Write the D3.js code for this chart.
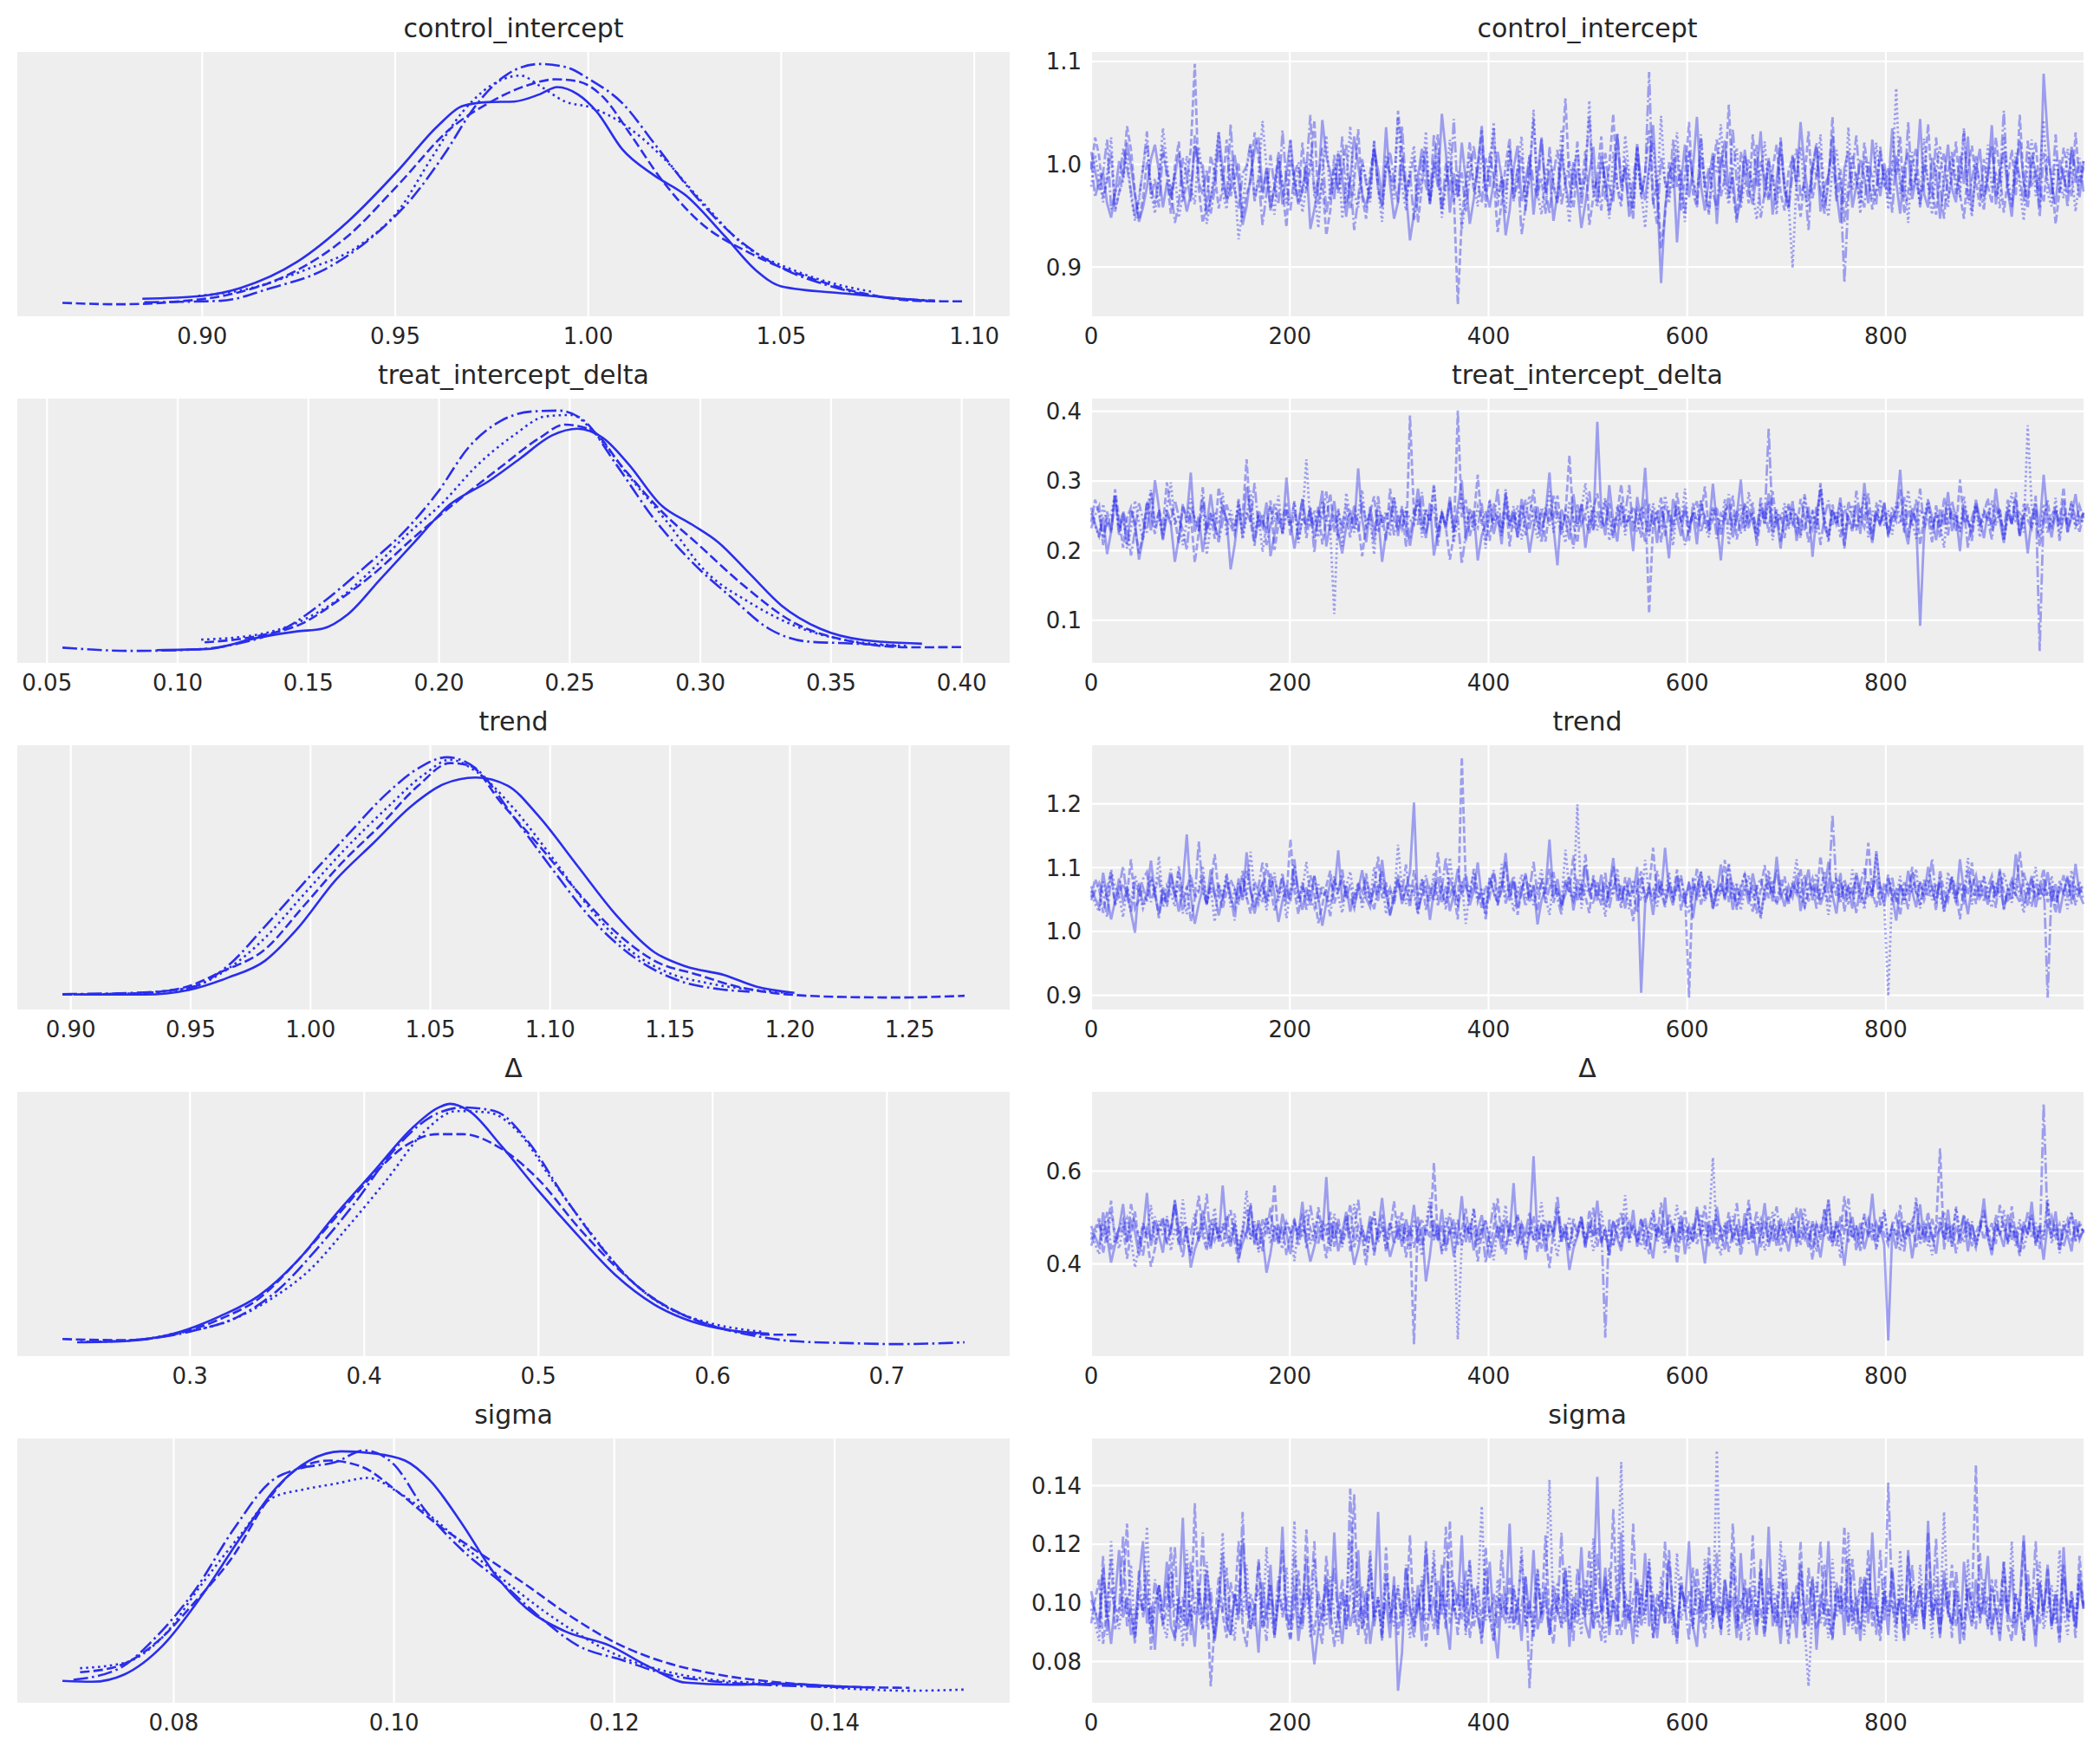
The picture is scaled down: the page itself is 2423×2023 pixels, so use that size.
<!DOCTYPE html>
<html>
<head>
<meta charset="utf-8">
<title>Trace plot</title>
<script src="https://cdn.jsdelivr.net/npm/d3@7"></script>
<style>
  body { margin: 0; background: #fff; }
  text { font-family: "DejaVu Sans", sans-serif; fill: #262626; }
</style>
</head>
<body>
<div id="chart"></div>
<script>
// ---- data ----
var varNames = ["control_intercept", "treat_intercept_delta", "trend", "\u0394", "sigma"];
var draws = 1000;

// kde curves, per chain: [value, density]
var kdeControl = [
  [[.8845,.4],[.90,.6],[.910,1.16],[.9246,2.96],[.9378,5.76],[.951,9.36],[.961,12.36],[.9675,13.76],[.974,14.02],[.9808,14.06],[.9874,14.56],[.992,15.06],[.9973,14.56],[1.0022,13.36],[1.0088,10.76],[1.017,8.96],[1.0253,7.56],[1.0353,4.76],[1.0435,2.36],[1.050,1.26],[1.0667,.76],[1.0832,.36],[1.088,.26]],
  [[.8638,.12],[.8784,.02],[.8932,.2],[.9064,.66],[.923,2.16],[.9378,4.76],[.951,8.36],[.9642,12.16],[.9742,13.96],[.984,15.16],[.9915,15.6],[.9973,15.46],[1.0039,14.36],[1.0105,11.96],[1.0187,8.76],[1.0287,5.76],[1.0419,3.56],[1.0584,1.76],[1.0716,.76],[1.0865,.24],[1.0975,.22]],
  [[.899,.6],[.9114,1.06],[.9263,2.36],[.9411,4.16],[.951,6.56],[.9593,10.1],[.9675,13.36],[.9775,15.56],[.9824,15.86],[.9874,15.16],[.994,14.06],[1.0006,13.66],[1.0088,12.56],[1.0187,10.36],[1.0287,7.36],[1.0402,4.16],[1.0534,2.36],[1.065,1.36],[1.074,.86]],
  [[.885,.16],[.9048,.26],[.918,1.16],[.9312,2.36],[.9444,4.76],[.9543,7.36],[.9626,10.36],[.9708,13.76],[.9791,15.96],[.9874,16.66],[.994,16.46],[1.0006,15.56],[1.0088,13.96],[1.0171,11.16],[1.027,7.76],[1.0369,4.96],[1.0485,2.76],[1.0617,1.36],[1.0749,.56],[1.0898,.28]]
];
var kdeTreat = [
  [[.092,.04],[.1115,.08],[.131,.5],[.1457,.72],[.1554,.82],[.1652,1.35],[.1774,2.61],[.1896,3.87],[.2042,5.35],[.2189,6.19],[.2311,7.03],[.2433,7.87],[.253,8.11],[.2628,7.77],[.2725,6.82],[.2847,5.35],[.2969,4.61],[.3067,3.98],[.3189,2.82],[.3311,1.66],[.3458,.82],[.3628,.4],[.3848,.27]],
  [[.1103,.32],[.131,.56],[.1481,1.03],[.1603,1.77],[.175,2.82],[.1896,4.08],[.2067,5.45],[.2237,6.72],[.2384,7.77],[.2481,8.26],[.2579,8.08],[.2701,6.72],[.2847,5.14],[.2994,3.87],[.3165,2.4],[.336,1.03],[.3555,.4],[.3799,.14],[.4011,.15]],
  [[.109,.42],[.131,.61],[.1481,1.14],[.1627,1.98],[.175,3.03],[.1871,4.19],[.2018,5.45],[.214,6.72],[.2286,7.87],[.2408,8.56],[.2506,8.61],[.2603,7.87],[.2725,6.4],[.2872,4.72],[.3018,2.93],[.3189,1.77],[.336,.93],[.3555,.4],[.3799,.19]],
  [[.0559,.13],[.0822,.01],[.1066,.06],[.1237,.29],[.1408,.82],[.1554,1.77],[.1725,3.14],[.1871,4.4],[.1993,5.77],[.2115,7.45],[.2237,8.4],[.2359,8.74],[.2457,8.77],[.2555,8.4],[.2677,6.82],[.2823,4.82],[.2969,3.24],[.3116,1.98],[.3262,.82],[.3409,.35],[.3555,.29],[.375,.19]]
];
var kdeTrend = [
  [[.904,.12],[.9306,.12],[.9492,.31],[.9652,.8],[.9811,1.51],[.9944,2.8],[1.0104,4.8],[1.0263,6.33],[1.0423,7.86],[1.0556,8.74],[1.0689,9.01],[1.0822,8.68],[1.0955,7.39],[1.1114,5.39],[1.1274,3.39],[1.1434,1.86],[1.1566,1.27],[1.1726,.92],[1.1859,.45],[1.2019,.19]],
  [[.8965,.12],[.9253,.16],[.9465,.39],[.9625,1.04],[.9811,1.98],[.9971,3.74],[1.013,5.51],[1.029,7.04],[1.045,8.68],[1.0582,9.6],[1.0662,9.51],[1.0795,7.98],[1.0955,6.21],[1.1114,4.33],[1.1274,2.68],[1.1434,1.51],[1.162,.92],[1.1779,.45],[1.1965,.15],[1.2231,.02],[1.2444,0],[1.2729,.07]],
  [[.8987,.12],[.9306,.19],[.9492,.39],[.9652,1.15],[.9811,2.45],[.9971,4.21],[1.0157,6.21],[1.0316,7.74],[1.0476,9.15],[1.0582,9.74],[1.0689,9.27],[1.0848,7.74],[1.1008,5.74],[1.1168,3.62],[1.1327,1.98],[1.1487,1.04],[1.1673,.56],[1.1832,.33],[1.1992,.19]],
  [[.8965,.14],[.9253,.19],[.9492,.39],[.9652,1.27],[.9811,2.92],[.9971,4.68],[1.0157,6.68],[1.0316,8.33],[1.045,9.39],[1.0569,9.84],[1.0689,9.39],[1.0848,7.39],[1.1008,5.27],[1.1168,3.27],[1.1354,1.62],[1.154,.68],[1.17,.35],[1.1832,.24]]
];
var kdeDelta = [
  [[.2352,.05],[.2627,.08],[.2883,.26],[.3176,.78],[.3395,1.34],[.3615,2.3],[.3834,3.58],[.4054,4.78],[.4274,5.98],[.442,6.54],[.4493,6.66],[.4603,6.46],[.4786,5.5],[.5005,4.22],[.5225,3.02],[.5445,1.9],[.5664,1.1],[.5884,.62],[.6103,.38],[.6323,.29]],
  [[.2268,.14],[.2627,.11],[.2883,.24],[.3176,.7],[.3395,1.26],[.3615,2.3],[.3834,3.5],[.4054,4.7],[.4237,5.5],[.442,5.82],[.4566,5.82],[.4786,5.42],[.5005,4.54],[.5225,3.26],[.5445,2.14],[.5664,1.26],[.5884,.7],[.6103,.38],[.6323,.26],[.6488,.26]],
  [[.2371,.06],[.2663,.1],[.2919,.3],[.3212,.62],[.3468,1.26],[.3688,2.06],[.3908,3.26],[.4127,4.54],[.4347,5.9],[.453,6.46],[.4713,6.42],[.4896,5.82],[.5079,4.54],[.5298,3.1],[.5518,1.82],[.5737,1.02],[.5957,.62],[.6286,.34]],
  [[.2407,.06],[.2737,.14],[.3029,.38],[.3285,.78],[.3505,1.5],[.3725,2.62],[.3944,3.9],[.4164,5.34],[.4383,6.3],[.4566,6.56],[.475,6.46],[.4933,5.66],[.5152,4.06],[.5372,2.62],[.5592,1.5],[.5811,.86],[.603,.46],[.625,.22],[.6469,.08],[.6762,.03],[.7055,0],[.7446,.05]]
];
var kdeSigma = [
  [[.0699,1.44],[.0726,1.32],[.0755,2.32],[.079,6.32],[.0825,13.12],[.086,21.12],[.0894,28.32],[.0923,31.92],[.0952,33.2],[.0981,32.92],[.101,31.92],[.1033,29.12],[.1062,23.12],[.1091,16.32],[.112,11.52],[.1155,8.32],[.1196,6.32],[.123,3.52],[.1265,1.2],[.1306,.92],[.1352,1.04],[.1398,.72],[.1433,.52]],
  [[.0715,2.64],[.075,3.52],[.0784,6.72],[.0819,12.32],[.0854,18.72],[.0883,25.92],[.0912,30.72],[.0941,31.92],[.097,31.12],[.1004,27.52],[.1039,23.12],[.1074,19.52],[.112,14.72],[.1161,10.32],[.1201,6.72],[.1248,3.92],[.1294,2.32],[.1352,1.2],[.141,.64],[.1468,.48]],
  [[.0715,3.2],[.0755,3.92],[.079,7.52],[.0825,14.72],[.086,21.52],[.0889,26.72],[.0918,27.92],[.0947,28.72],[.0976,29.52],[.1004,27.52],[.1039,23.52],[.1074,18.72],[.1115,13.52],[.1155,9.12],[.1201,5.12],[.1248,2.72],[.1294,1.52],[.1352,1.04],[.141,.4],[.1468,.08],[.1518,.24]],
  [[.0709,1.6],[.075,3.12],[.0784,7.52],[.0819,13.92],[.0854,22.32],[.0889,29.12],[.0912,30.72],[.0947,31.72],[.0973,33.32],[.0999,31.52],[.1028,25.12],[.1062,19.52],[.1097,15.12],[.1132,10.32],[.1167,6.32],[.1207,4.32],[.1248,2.32],[.1294,1.32],[.1352,.8],[.141,.56]]
];

// traces, per chain, thinned to 250 stored draws
var traceControl = [
  [1.012,.993,.975,.991,.962,.948,.971,1.003,.987,1.021,.998,.969,.944,.958,.978,1.005,1.019,.993,.958,.982,.967,.989,1.011,.976,.954,
   .971,1.018,1.002,.999,.952,.966,.986,1.031,.995,.964,.977,1.009,.983,.941,.959,.988,1.014,1.026,.973,.996,.955,.979,1.004,.961,.992,
   1.024,.983,.961,.975,1.002,.937,.956,.979,1.043,1.008,.992,.966,1.011,.987,.949,.985,1.027,.999,.971,.958,.982,1.015,.994,.968,1.036,
   .981,.947,.963,1.006,.973,.926,.952,.989,1.015,.997,.962,1.004,.978,1.049,1.012,.953,.991,.968,1.021,.984,.942,.966,.999,1.033,.975,
   .958,.983,1.012,.987,.931,.955,.996,1.018,.964,.983,1.007,.951,.989,1.026,.972,.994,.945,.971,1.013,.981,.959,1.002,.976,.938,.962,
   .991,1.017,.962,1.008,.985,.953,.974,1.029,.977,.996,.949,.967,1.017,.982,.965,.998,1.038,.973,.8845,.957,.991,1.004,.924,.983,1.019,
   .968,.995,1.046,.979,.955,.986,1.011,.942,.999,1.023,.971,.988,.947,.966,1.014,.976,.961,.993,1.032,.968,1.006,.951,.984,1.022,.973,
   .957,1.009,.981,1.041,.996,.966,.995,1.017,.954,.978,.989,1.028,.972,.943,.996,1.013,.958,.979,1.004,.987,.962,1.024,.993,.969,1.001,
   .974,1.035,.983,.952,.997,1.011,.966,.988,1.044,.971,.958,1.006,.992,.947,.985,1.019,.976,.963,1.008,.981,1.027,.954,.993,1.015,.968,
   .987,1.038,.961,.994,1.012,.975,.949,.998,1.023,.982,.966,1.009,.993,.958,1.088,1.026,.979,.961,1.004,.987,.972,1.017,.995,.968,1.003],
  [.995,1.026,1.008,.968,.983,1.011,.954,.972,.989,1.037,1.014,.972,.946,.967,1.003,.979,.961,.985,1.018,.987,.952,.998,1.022,.964,.981,
   1.015,1.0975,.976,.943,.962,1.008,.992,.957,.978,1.024,.969,.986,1.002,.948,.971,.983,1.031,1.006,.966,.994,.958,.977,1.012,.977,.939,
   1.005,.988,.963,1.021,.974,.997,1.043,.961,.985,.931,.955,1.009,.972,.995,1.019,.956,.983,1.034,.968,.947,.992,1.016,.979,.958,1.001,
   .991,.976,1.052,1.013,.965,.988,1.007,.943,.979,1.016,.962,.998,1.029,.957,.984,1.003,.969,.8638,.947,.981,1.022,.973,.995,1.038,.958,
   1.011,.987,.934,.963,.999,1.025,.966,.982,1.009,.955,.992,1.044,.971,.986,.952,1.017,.978,.963,1.001,1.064,.982,.957,.996,.974,1.013,
   .941,.968,.988,1.027,.965,.998,1.049,.976,.959,1.006,.983,.946,1.021,.968,.992,1.033,.961,.985,.918,.951,1.002,.977,1.015,.954,.989,
   1.041,.972,.958,1.008,.983,.951,.997,1.024,.969,.986,1.058,.974,.943,1.012,.991,.962,1.029,.978,1.003,.987,.964,.996,1.019,.972,.955,
   .993,1.007,.978,.949,.986,1.032,.967,.989,1.012,.958,.981,1.046,.973,.995,.944,.979,1.008,.985,.962,1.021,.991,.956,.976,1.013,.984,
   .967,1.003,.989,1.027,.952,.973,.998,1.016,.961,.984,1.039,.975,.951,.993,1.011,.966,.988,1.022,.971,.947,.996,1.018,.983,.959,1.005,
   .979,.962,1.026,.991,.953,.986,1.014,.969,1.048,.981,.957,.999,1.021,.974,.963,1.008,.987,.942,.975,1.016,.993,.968,1.031,.981,.997],
  [.978,1.009,.986,.963,.991,1.026,.957,.972,.984,1.012,.969,.945,.963,.998,1.021,.974,.952,.989,1.035,1.002,.967,.993,.948,.971,1.008,
   .979,.961,1.017,.986,.942,.966,.999,1.031,.972,.956,1.004,.983,.927,.958,.995,1.019,.964,.988,1.042,.997,.975,.951,1.006,.981,.962,
   1.024,.969,.997,.953,.978,1.011,.976,.938,.992,1.028,.965,.984,1.013,.947,.979,1.037,.971,.958,1.001,.986,.963,1.022,.975,.944,1.009,
   .991,.966,1.046,.978,.955,.997,1.018,.969,.984,1.032,.961,.989,1.011,.948,.977,1.024,.963,.993,.936,.968,1.007,.982,.959,1.015,.973,
   .998,1.041,.968,.985,.952,1.019,.976,.994,1.027,.964,.987,1.053,.972,.951,.991,1.008,.983,.961,1.034,.977,.943,.996,1.015,.968,.989,
   1.062,.975,.958,1.003,.982,.947,1.012,.979,.965,1.028,.991,.954,1.006,.973,.938,.995,1.021,.968,1.047,.981,.962,.999,1.031,.976,.944,
   1.013,.987,.966,1.025,.972,.953,1.008,.991,1.039,.978,.961,.994,1.016,.957,.984,1.005,.971,.946,.989,1.022,.967,.993,.951,1.011,.979,
   .962,.899,.985,1.017,.974,.958,1.003,.988,1.029,.967,.949,.996,1.014,.981,.963,1.036,.975,.992,.952,1.008,.984,.966,1.021,.977,.995,
   .956,.989,1.074,.971,.997,.943,1.012,.983,.964,1.025,.979,.951,.994,1.018,.972,.958,1.006,.987,.968,1.033,.975,.949,1.001,.982,.963,
   1.019,.976,.993,.957,1.027,.986,.964,1.011,.978,.945,.998,1.024,.969,.988,1.043,.972,.959,1.006,.983,.967,1.015,.991,.954,.987,1.003],
  [1.003,.968,.985,.992,1.024,.956,.973,.981,1.015,.997,.973,.949,.968,.995,1.032,.967,.986,.958,1.011,.993,.977,.943,.962,1.006,.989,
   .963,1.028,.982,.971,.995,.952,.976,1.017,.984,.966,1.039,.975,.957,.991,.998,1.021,.964,.987,.941,.972,1.009,.978,.961,1.033,.983,
   .955,.991,1.002,.972,.994,1.048,.969,.985,1.016,.952,.975,.997,.974,1.027,.962,.988,.936,.967,1.005,.981,.967,1.023,.976,.958,.996,
   1.012,.984,.963,1.037,.975,.991,.946,.968,1.008,.979,.965,1.029,.986,.953,1.001,.973,1.044,.968,.992,.954,.987,1.018,.983,.962,1.006,
   .977,1.035,.959,.988,.971,1.013,.964,.996,.932,.958,1.009,.981,.967,1.025,.975,.952,.99,1.014,.961,.983,1.003,.976,1.022,.958,.993,
   1.047,.972,.986,.955,1.011,.978,.963,1.031,.982,.997,.959,.984,1.016,.971,.988,1.0898,.965,.942,1.007,.983,.969,1.024,.977,.994,.951,
   1.012,.986,.961,1.029,.978,.996,.973,.956,1.011,.989,.967,1.034,.982,.964,1.008,.993,.975,1.019,.948,.972,1.003,.987,.961,1.026,.979,
   .957,.992,1.015,.968,.983,.936,.998,1.021,.975,.952,.989,1.013,.964,.981,.885,.967,.994,1.028,.973,.958,1.002,.986,.961,1.017,.978,
   .996,.953,1.009,.984,.967,1.041,.975,.991,.958,1.004,.982,.966,1.026,.979,.947,.993,1.012,.971,.988,1.035,.962,.985,1.008,.974,.956,
   .991,1.018,.969,.983,1.052,.976,.958,1.005,.987,.963,1.023,.978,.994,.949,1.011,.984,.967,1.029,.972,.996,.958,1.014,.982,1.006,.973]
];
var traceTreat = [
  [.262,.238,.221,.248,.195,.227,.276,.233,.254,.209,.257,.241,.187,.218,.268,.229,.301,.262,.215,.252,.238,.184,.219,.263,.247,
   .312,.227,.249,.198,.236,.281,.236,.219,.266,.244,.173,.208,.255,.228,.291,.254,.213,.247,.234,.269,.192,.223,.258,.225,.305,
   .241,.203,.237,.274,.237,.261,.218,.249,.286,.206,.239,.271,.224,.196,.235,.258,.232,.318,.245,.212,.263,.229,.251,.184,.226,
   .242,.276,.221,.259,.235,.207,.243,.289,.246,.218,.268,.193,.226,.254,.231,.277,.226,.262,.301,.214,.243,.257,.186,.222,.238,
   .271,.224,.249,.209,.283,.236,.255,.219,.274,.241,.197,.234,.263,.228,.252,.312,.234,.179,.259,.244,.216,.281,.238,.267,.204,
   .245,.231,.385,.256,.222,.294,.241,.213,.268,.235,.251,.199,.277,.243,.319,.226,.258,.211,.262,.237,.189,.274,.248,.221,.266,
   .232,.254,.209,.271,.245,.228,.296,.238,.186,.257,.264,.219,.249,.302,.231,.257,.242,.216,.267,.239,.282,.225,.249,.203,.258,
   .236,.271,.214,.246,.229,.263,.191,.252,.287,.233,.219,.258,.241,.276,.207,.249,.232,.266,.224,.297,.243,.211,.254,.237,.269,
   .222,.248,.257,.316,.234,.209,.261,.243,.092,.226,.272,.248,.215,.259,.237,.284,.228,.251,.199,.265,.241,.227,.273,.246,.218,
   .256,.234,.289,.243,.211,.262,.238,.274,.221,.251,.196,.247,.268,.233,.309,.245,.219,.258,.237,.272,.226,.249,.281,.238,.255],
  [.241,.273,.252,.218,.256,.229,.288,.247,.204,.247,.262,.233,.196,.224,.271,.252,.224,.259,.235,.298,.261,.246,.211,.267,.239,
   .252,.183,.226,.276,.229,.255,.217,.291,.257,.244,.236,.223,.265,.249,.331,.241,.207,.258,.242,.229,.272,.201,.238,.246,.268,
   .222,.255,.237,.274,.218,.251,.236,.263,.209,.245,.282,.226,.257,.231,.248,.219,.266,.239,.192,.236,.255,.278,.227,.251,.214,
   .289,.243,.232,.264,.205,.394,.252,.271,.228,.259,.241,.296,.219,.256,.233,.187,.222,.401,.248,.273,.221,.245,.309,.238,.257,
   .214,.268,.242,.231,.279,.206,.253,.236,.265,.222,.247,.288,.234,.258,.213,.261,.245,.279,.229,.252,.337,.238,.211,.267,.246,
   .225,.259,.282,.241,.235,.268,.222,.254,.295,.239,.244,.263,.248,.219,.274,.110,.236,.257,.212,.266,.249,.227,.283,.241,.259,
   .214,.268,.236,.251,.292,.228,.245,.263,.221,.254,.237,.279,.216,.248,.262,.231,.269,.207,.244,.258,.226,.285,.239,.252,.218,
   .263,.241,.227,.274,.249,.212,.258,.236,.297,.244,.221,.266,.238,.253,.203,.271,.247,.229,.261,.243,.282,.224,.256,.235,.268,
   .219,.251,.242,.288,.226,.259,.237,.273,.208,.246,.264,.231,.255,.218,.276,.241,.257,.227,.302,.239,.248,.214,.266,.236,.253,
   .275,.229,.247,.261,.216,.253,.238,.284,.224,.249,.267,.233,.258,.206,.245,.272,.231,.256,.243,.291,.227,.251,.238,.264,.246],
  [.254,.236,.219,.267,.238,.251,.281,.226,.249,.203,.232,.272,.241,.215,.258,.287,.232,.246,.224,.262,.298,.237,.251,.208,.243,
   .275,.243,.229,.266,.194,.237,.255,.238,.283,.221,.258,.234,.271,.216,.249,.286,.227,.252,.198,.238,.264,.241,.279,.222,.253,
   .238,.269,.211,.246,.331,.235,.258,.219,.272,.243,.229,.109,.261,.206,.283,.248,.226,.252,.287,.231,.245,.194,.267,.239,.256,
   .221,.276,.248,.233,.262,.244,.238,.275,.219,.258,.241,.292,.227,.254,.236,.269,.211,.248,.281,.234,.257,.229,.263,.247,.203,
   .274,.238,.256,.221,.288,.244,.232,.265,.216,.251,.279,.241,.218,.262,.249,.285,.226,.253,.238,.211,.271,.245,.234,.258,.297,
   .236,.263,.229,.251,.276,.214,.247,.238,.269,.222,.258,.243,.227,.263,.248,.219,.268,.244,.232,.279,.251,.207,.262,.238,.289,
   .226,.255,.243,.272,.236,.219,.261,.249,.231,.274,.208,.253,.241,.266,.228,.284,.245,.222,.259,.237,.271,.215,.256,.243,.268,
   .231,.262,.247,.218,.276,.239,.254,.226,.293,.245,.212,.258,.237,.269,.224,.251,.266,.233,.247,.281,.219,.257,.241,.274,.235,
   .258,.223,.269,.246,.234,.287,.241,.217,.259,.248,.274,.229,.252,.238,.204,.266,.243,.256,.227,.278,.241,.233,.262,.219,.251,
   .245,.272,.236,.259,.214,.248,.283,.239,.257,.226,.380,.263,.242,.218,.267,.249,.234,.276,.221,.255,.243,.269,.231,.252,.238],
  [.232,.251,.264,.208,.247,.226,.279,.221,.256,.238,.193,.229,.268,.244,.226,.285,.239,.253,.217,.258,.241,.272,.249,.229,.201,
   .263,.246,.233,.291,.224,.251,.237,.212,.242,.266,.245,.228,.274,.219,.256,.241,.297,.232,.252,.208,.236,.267,.243,.226,.259,
   .236,.271,.214,.248,.235,.262,.197,.257,.243,.285,.229,.251,.218,.239,.266,.238,.255,.226,.269,.241,.253,.211,.278,.234,.249,
   .264,.222,.247,.231,.257,.216,.259,.237,.284,.225,.248,.263,.207,.251,.238,.272,.229,.246,.181,.224,.261,.243,.233,.268,.214,
   .252,.241,.289,.226,.255,.237,.264,.219,.247,.273,.231,.258,.244,.211,.262,.236,.279,.248,.223,.257,.241,.203,.266,.238,.252,
   .285,.229,.256,.232,.271,.245,.218,.263,.239,.251,.294,.227,.258,.242,.213,.267,.235,.248,.276,.221,.259,.237,.266,.243,.208,
   .231,.255,.271,.226,.249,.238,.262,.217,.253,.246,.281,.233,.257,.224,.268,.241,.252,.229,.276,.244,.375,.236,.259,.213,.248,
   .267,.239,.254,.222,.281,.246,.231,.263,.208,.249,.272,.237,.255,.219,.264,.242,.228,.286,.247,.233,.258,.214,.269,.241,.252,
   .226,.263,.245,.238,.277,.219,.256,.241,.289,.233,.248,.212,.265,.237,.254,.222,.271,.246,.231,.259,.204,.247,.268,.236,.257,
   .243,.216,.262,.248,.229,.273,.238,.255,.221,.267,.244,.232,.279,.056,.257,.226,.249,.263,.214,.252,.238,.271,.246,.227,.254]
];
var traceTrend = [
  [1.071,1.052,1.038,1.092,1.054,1.019,1.047,1.083,1.047,1.065,1.029,.998,1.076,1.042,1.061,1.111,1.058,1.027,1.069,1.046,1.089,1.063,1.031,1.074,1.152,
   1.056,1.012,1.043,1.068,1.043,1.097,1.061,1.025,1.055,1.079,1.051,1.037,1.083,1.049,1.124,1.066,1.028,1.058,1.075,1.044,1.091,1.058,1.015,1.048,1.072,
   1.047,1.103,1.062,1.034,1.069,1.041,1.087,1.053,1.009,1.044,1.078,1.062,1.127,1.045,1.071,1.031,1.058,1.064,1.096,1.052,1.038,1.074,1.048,1.112,1.059,
   1.026,1.053,1.081,1.043,1.067,1.093,1.202,1.035,1.056,1.072,1.018,1.063,1.085,1.046,1.071,1.032,1.058,1.098,1.057,1.077,1.041,1.064,1.108,1.052,1.027,
   1.083,1.061,1.045,1.069,1.123,1.054,1.079,1.038,1.062,1.091,1.047,1.073,1.011,1.049,1.066,1.144,1.055,1.082,1.043,1.058,1.086,1.033,1.071,1.049,1.104,
   1.061,1.078,1.052,1.089,1.039,1.067,1.115,1.048,1.072,1.036,1.084,1.059,1.101,.904,1.044,1.068,1.026,1.079,1.055,1.131,1.063,1.041,1.087,1.057,1.046,
   1.078,1.021,1.066,1.093,1.052,1.074,1.037,1.061,1.105,1.049,1.082,1.034,1.068,1.051,1.072,1.043,1.091,1.058,1.024,1.065,1.083,1.047,1.117,1.062,1.039,
   1.071,1.054,1.088,1.032,1.066,1.097,1.049,1.075,1.042,1.063,1.109,1.057,1.028,1.081,1.052,1.069,1.036,1.092,1.061,1.045,1.078,1.053,1.126,1.064,1.041,
   1.083,1.058,1.017,1.072,1.049,1.095,1.063,1.038,1.076,1.054,1.101,1.067,1.044,1.085,1.032,1.059,1.078,1.046,1.113,1.062,1.027,1.071,1.088,1.053,1.066,
   1.042,1.079,1.056,1.098,1.034,1.067,1.052,1.121,1.073,1.045,1.061,1.087,1.038,1.069,1.055,1.093,1.047,1.074,1.029,1.062,1.084,1.051,1.106,1.058,1.043],
  [1.053,1.082,1.067,1.029,1.067,1.094,1.041,1.058,1.075,1.058,1.113,1.036,1.049,1.069,1.047,1.086,1.064,1.021,1.064,1.039,1.077,1.055,1.102,1.048,1.071,
   1.016,1.052,1.062,1.089,1.044,1.073,1.121,1.057,1.035,1.063,1.081,1.066,1.042,1.095,1.054,1.028,1.078,1.061,1.046,1.107,1.069,1.033,1.057,1.084,1.052,
   1.145,1.063,1.027,1.074,1.049,1.088,1.058,1.013,1.041,1.071,1.095,1.044,1.065,1.082,1.056,1.053,1.036,1.076,1.059,1.091,1.043,1.068,1.117,1.052,1.077,
   1.024,1.063,1.089,1.047,1.072,1.038,1.096,1.056,1.081,1.034,1.067,1.049,1.124,1.061,1.043,1.085,1.058,1.019,1.273,1.073,1.052,1.098,1.064,1.037,1.072,
   1.055,1.093,1.041,1.066,1.109,1.048,1.079,1.026,1.064,1.087,1.051,1.071,1.032,1.083,1.057,1.098,1.045,1.069,1.036,1.081,1.062,1.119,1.047,1.073,1.055,
   1.029,1.088,1.064,1.041,1.076,1.051,1.102,1.063,1.037,1.085,1.058,1.016,1.072,1.094,1.046,1.067,1.131,1.053,1.079,1.042,1.071,1.056,1.097,1.033,1.066,
   .8965,1.084,1.049,1.075,1.061,1.087,1.043,1.069,1.058,1.112,1.046,1.077,1.034,1.062,1.091,1.055,1.073,1.028,1.066,1.104,1.052,1.079,1.041,1.068,1.086,
   1.047,1.072,1.059,1.099,1.036,1.064,1.083,1.051,1.118,1.067,1.044,1.078,1.056,1.092,1.031,1.069,1.058,1.087,1.045,1.074,1.139,1.062,1.038,1.071,1.055,
   1.089,1.046,1.068,1.025,1.077,1.058,1.101,1.063,1.042,1.081,1.054,1.072,1.033,1.096,1.061,1.048,1.085,1.066,1.019,1.074,1.057,1.108,1.043,1.069,1.082,
   1.051,1.076,1.037,1.094,1.062,1.045,1.078,1.056,1.125,1.067,1.039,1.083,1.052,1.071,1.098,1.046,1.064,1.029,1.079,1.058,1.087,1.043,1.069,1.061,1.074],
  [1.064,1.043,1.031,1.078,1.049,1.097,1.069,1.058,1.022,1.071,1.045,1.088,1.062,1.036,1.054,1.083,1.053,1.118,1.047,1.072,1.059,1.039,1.095,1.061,1.027,
   1.079,1.054,1.068,1.103,1.043,1.068,1.015,1.074,1.057,1.091,1.038,1.066,1.049,1.084,1.051,1.125,1.062,1.044,1.077,1.033,1.069,1.092,1.048,1.073,1.021,
   1.058,1.081,1.046,1.065,1.109,1.052,1.037,1.074,1.056,1.063,1.041,1.087,1.056,1.029,1.071,1.094,1.052,1.077,1.035,1.068,1.046,1.101,1.059,1.083,1.027,
   1.064,1.048,1.136,1.066,1.043,1.075,1.058,1.029,1.082,1.061,1.047,1.093,1.055,1.071,1.034,1.116,1.063,1.049,1.078,1.012,1.067,1.091,1.053,1.069,1.038,
   1.084,1.061,1.045,1.106,1.057,1.072,1.031,1.065,1.089,1.052,1.076,1.041,1.068,1.097,1.054,1.026,1.079,1.062,1.043,1.128,1.066,1.051,1.199,1.036,1.071,
   1.058,1.083,1.047,1.065,1.023,1.078,1.056,1.099,1.044,1.069,1.035,1.081,1.062,1.048,1.112,1.057,1.066,1.039,1.074,1.058,1.092,1.045,1.067,1.083,1.051,
   1.028,1.076,1.061,1.094,1.047,1.066,1.082,1.038,1.071,1.055,1.104,1.049,1.077,1.033,1.063,1.088,1.052,1.073,1.019,1.067,1.096,1.058,1.044,1.081,1.062,
   1.047,1.071,1.113,1.055,1.039,1.078,1.064,1.091,1.048,1.072,1.026,1.066,1.085,1.053,1.074,1.041,1.097,1.059,1.068,1.034,1.079,1.056,1.121,1.063,1.045,
   .8987,1.069,1.052,1.087,1.043,1.074,1.061,1.098,1.036,1.067,1.082,1.049,1.075,1.057,1.031,1.093,1.064,1.046,1.078,1.059,1.115,1.042,1.071,1.053,1.088,
   1.061,1.037,1.076,1.054,1.092,1.067,1.045,1.083,1.058,1.029,1.074,1.062,1.101,1.048,1.069,1.056,1.087,1.041,1.073,1.064,1.035,1.096,1.057,1.078,1.049],
  [1.049,1.063,1.076,1.058,1.022,1.087,1.043,1.069,1.102,1.055,1.031,1.074,1.061,1.082,1.093,1.046,1.067,1.083,1.037,1.062,1.098,1.051,1.074,1.028,1.066,
   1.089,1.054,1.141,1.063,1.042,1.079,1.056,1.071,1.045,1.088,1.059,1.017,1.076,1.052,1.095,1.063,1.038,1.071,1.108,1.049,1.067,1.083,1.056,1.092,1.041,
   1.068,1.113,1.052,1.077,1.034,1.063,1.087,1.046,1.072,1.055,1.024,1.081,1.062,1.097,1.051,1.074,1.038,1.066,1.047,1.082,1.059,1.035,1.071,1.094,1.053,
   1.068,1.043,1.077,1.061,1.105,1.048,1.072,1.026,1.064,1.088,1.055,1.079,1.041,1.067,1.116,1.052,1.075,1.037,1.069,1.091,1.054,1.078,1.046,1.063,1.019,
   1.072,1.096,1.058,1.081,1.044,1.066,1.087,1.053,1.072,1.039,1.064,1.109,1.057,1.076,1.045,1.068,1.093,1.051,1.027,1.074,1.062,1.048,1.082,1.059,1.121,
   1.066,1.043,1.077,1.055,1.092,1.036,1.069,1.085,1.051,1.074,1.058,1.063,1.029,1.084,1.057,1.071,1.046,1.095,1.062,1.038,1.079,1.054,1.069,1.088,1.047,
   1.073,1.056,1.098,1.042,1.067,1.081,1.035,1.064,1.077,1.052,1.106,1.061,1.044,1.072,1.089,1.058,1.031,1.069,1.083,1.049,1.075,1.062,1.097,1.054,1.068,
   1.041,1.078,1.063,1.055,1.089,1.047,1.072,1.036,1.066,1.093,1.058,1.183,1.071,1.044,1.082,1.056,1.067,1.028,1.074,1.099,1.053,1.065,1.087,1.041,1.076,
   1.059,1.084,1.046,1.071,1.062,1.035,1.092,1.057,1.078,1.049,1.067,1.114,1.053,1.076,1.038,1.064,1.086,1.051,1.073,1.042,1.097,1.061,1.055,1.082,1.048,
   1.069,1.087,1.052,1.074,1.036,1.063,1.081,1.058,1.046,1.092,1.067,1.039,1.075,1.056,1.084,.8965,1.071,1.049,1.062,1.088,1.053,1.077,1.041,1.066,1.059]
];
var traceDelta = [
  [.482,.459,.436,.511,.458,.403,.441,.476,.529,.447,.492,.468,.418,.467,.553,.439,.486,.461,.424,.497,.463,.538,.475,.441,.479,
   .392,.431,.456,.515,.472,.433,.498,.451,.569,.464,.438,.487,.412,.445,.469,.526,.445,.494,.457,.381,.423,.481,.443,.508,.466,
   .421,.489,.462,.534,.448,.405,.437,.477,.452,.587,.439,.491,.427,.468,.512,.455,.398,.432,.476,.449,.503,.426,.471,.542,.458,
   .415,.447,.484,.437,.496,.461,.527,.444,.479,.362,.419,.495,.452,.518,.437,.481,.416,.463,.546,.447,.488,.429,.472,.505,.458,
   .413,.452,.476,.432,.498,.461,.574,.443,.486,.409,.467,.632,.451,.484,.426,.493,.457,.512,.448,.471,.387,.433,.459,.502,.438,
   .483,.461,.536,.445,.474,.419,.491,.455,.428,.481,.454,.516,.437,.472,.498,.449,.412,.486,.461,.543,.433,.478,.456,.504,.421,
   .473,.449,.523,.462,.401,.488,.445,.523,.467,.431,.494,.459,.478,.436,.509,.452,.487,.418,.466,.531,.447,.482,.439,.498,.463,
   .427,.484,.451,.519,.471,.436,.492,.458,.414,.476,.539,.448,.483,.462,.396,.474,.501,.445,.488,.432,.467,.551,.453,.479,.441,
   .235,.468,.433,.496,.457,.481,.412,.469,.528,.446,.487,.463,.422,.491,.452,.517,.438,.476,.459,.503,.427,.485,.448,.472,.541,
   .456,.419,.483,.466,.437,.506,.452,.478,.425,.491,.463,.534,.444,.471,.409,.487,.455,.513,.438,.479,.461,.427,.496,.452,.474],
  [.452,.476,.498,.423,.471,.536,.445,.462,.482,.411,.467,.513,.439,.488,.456,.394,.433,.477,.501,.446,.473,.528,.438,.491,.457,
   .419,.483,.547,.462,.428,.495,.451,.474,.437,.489,.516,.448,.403,.472,.459,.531,.441,.486,.427,.499,.464,.572,.445,.481,.419,
   .463,.492,.455,.508,.434,.476,.449,.522,.468,.412,.487,.453,.498,.443,.471,.529,.436,.482,.459,.397,.474,.513,.447,.491,.426,
   .468,.535,.452,.486,.414,.471,.227,.502,.439,.479,.455,.618,.447,.483,.428,.469,.496,.441,.473,.519,.446,.482,.405,.467,.493,
   .437,.478,.541,.452,.421,.488,.462,.509,.441,.476,.458,.503,.426,.489,.459,.391,.471,.524,.448,.482,.435,.497,.463,.485,.432,
   .516,.457,.479,.451,.473,.418,.494,.466,.437,.507,.458,.481,.446,.498,.462,.421,.489,.455,.532,.468,.439,.484,.401,.476,.514,
   .452,.487,.443,.471,.526,.459,.494,.432,.478,.463,.511,.447,.485,.418,.469,.538,.454,.491,.436,.474,.502,.448,.482,.427,.466,
   .493,.455,.521,.441,.478,.464,.409,.486,.452,.517,.471,.438,.495,.461,.546,.447,.483,.429,.468,.506,.456,.479,.434,.501,.463,
   .441,.484,.458,.527,.446,.473,.493,.436,.481,.462,.512,.449,.477,.649,.431,.488,.457,.519,.443,.472,.497,.438,.466,.489,.452,
   .478,.432,.506,.461,.489,.446,.524,.458,.417,.483,.467,.503,.439,.476,.452,.531,.463,.488,.428,.471,.495,.449,.482,.457,.474],
  [.468,.442,.421,.489,.447,.512,.466,.433,.476,.498,.455,.392,.437,.481,.462,.527,.441,.493,.459,.503,.428,.478,.446,.539,.462,
   .417,.485,.451,.496,.436,.472,.521,.448,.487,.442,.466,.509,.431,.478,.558,.453,.492,.425,.467,.501,.444,.483,.459,.432,.491,
   .473,.406,.482,.456,.518,.443,.474,.499,.461,.488,.427,.508,.471,.436,.495,.462,.529,.448,.483,.419,.467,.506,.452,.479,.433,
   .491,.464,.505,.449,.478,.431,.496,.462,.417,.485,.542,.457,.473,.428,.499,.463,.481,.237,.446,.488,.461,.519,.438,.475,.494,
   .452,.408,.483,.466,.527,.441,.478,.503,.459,.422,.487,.451,.476,.533,.448,.491,.463,.415,.482,.457,.502,.439,.474,.493,.456,
   .481,.428,.467,.514,.452,.476,.437,.498,.461,.548,.443,.479,.465,.438,.484,.457,.509,.446,.472,.421,.493,.468,.527,.451,.487,
   .433,.476,.462,.508,.447,.479,.629,.455,.418,.489,.466,.503,.437,.481,.454,.522,.443,.476,.496,.429,.468,.512,.451,.485,.446,
   .471,.502,.438,.464,.521,.453,.487,.426,.479,.458,.536,.447,.483,.412,.469,.497,.455,.476,.441,.508,.463,.489,.431,.474,.517,
   .449,.482,.465,.428,.496,.457,.473,.544,.441,.486,.462,.419,.478,.503,.452,.481,.437,.524,.469,.446,.491,.458,.434,.476,.501,
   .459,.427,.488,.463,.517,.442,.479,.454,.496,.431,.472,.506,.448,.485,.461,.539,.444,.477,.423,.492,.466,.509,.451,.482,.468],
  [.439,.465,.487,.458,.512,.431,.453,.476,.495,.447,.529,.482,.463,.418,.484,.451,.502,.468,.491,.442,.477,.536,.456,.413,.482,
   .467,.508,.449,.475,.551,.437,.486,.459,.473,.504,.447,.488,.426,.469,.517,.453,.481,.432,.496,.464,.521,.448,.479,.452,.489,
   .466,.497,.438,.483,.459,.526,.472,.444,.493,.461,.512,.437,.484,.455,.503,.427,.471,.538,.462,.449,.491,.418,.476,.506,.453,
   .488,.443,.469,.511,.448,.483,.435,.474,.497,.462,.528,.451,.486,.421,.472,.509,.457,.495,.441,.478,.463,.519,.447,.485,.402,
   .469,.531,.454,.492,.438,.476,.461,.443,.487,.466,.512,.451,.479,.433,.496,.462,.474,.547,.458,.489,.429,.483,.472,.503,.448,
   .464,.521,.437,.485,.241,.498,.441,.476,.512,.456,.489,.467,.452,.496,.431,.478,.517,.465,.488,.443,.509,.471,.436,.493,.458,
   .482,.447,.516,.463,.491,.438,.475,.503,.452,.484,.426,.469,.531,.458,.487,.444,.472,.512,.461,.495,.437,.479,.524,.453,.486,
   .468,.509,.442,.477,.455,.493,.431,.486,.464,.518,.449,.481,.436,.502,.467,.541,.457,.483,.428,.474,.497,.451,.488,.463,.512,
   .446,.479,.503,.458,.427,.491,.466,.534,.452,.481,.439,.497,.462,.475,.511,.448,.486,.423,.469,.507,.457,.492,.436,.478,.516,
   .461,.488,.443,.527,.474,.452,.496,.438,.483,.467,.511,.455,.489,.432,.745,.478,.502,.459,.484,.437,.471,.513,.448,.492,.466]
];
var traceSigma = [
  [.104,.097,.091,.112,.097,.086,.101,.118,.095,.102,.089,.094,.108,.121,.093,.099,.084,.106,.097,.114,.092,.088,.101,.129,.092,
   .098,.085,.105,.094,.111,.099,.087,.099,.117,.093,.089,.103,.096,.122,.102,.091,.099,.083,.107,.094,.113,.088,.101,.126,.095,
   .092,.106,.087,.098,.115,.093,.079,.091,.096,.109,.091,.124,.097,.086,.103,.092,.099,.118,.091,.104,.086,.097,.131,.093,.101,
   .088,.109,.070,.083,.112,.098,.092,.106,.087,.119,.096,.102,.089,.113,.094,.084,.107,.099,.123,.091,.097,.105,.095,.088,.099,
   .114,.092,.081,.103,.096,.127,.093,.101,.087,.109,.095,.118,.091,.097,.106,.089,.102,.098,.092,.111,.085,.102,.096,.119,.093,
   .088,.104,.143,.097,.112,.089,.101,.094,.124,.091,.099,.086,.108,.095,.117,.092,.103,.088,.101,.093,.115,.096,.087,.106,.099,
   .121,.092,.085,.104,.097,.113,.094,.099,.091,.108,.096,.102,.088,.117,.093,.105,.097,.089,.111,.094,.126,.092,.099,.086,.107,
   .095,.101,.088,.113,.097,.092,.109,.084,.103,.096,.121,.091,.099,.106,.089,.115,.094,.102,.087,.108,.093,.124,.098,.091,.104,
   .089,.112,.096,.101,.087,.118,.093,.099,.106,.091,.128,.095,.102,.088,.111,.097,.093,.105,.086,.114,.099,.092,.108,.095,.101,
   .116,.091,.098,.087,.104,.096,.112,.089,.101,.123,.094,.099,.085,.107,.097,.113,.092,.103,.088,.119,.095,.101,.091,.106,.098],
  [.093,.101,.108,.086,.099,.115,.091,.097,.104,.127,.095,.088,.102,.097,.111,.084,.099,.106,.092,.098,.119,.087,.101,.094,.113,
   .089,.134,.097,.091,.105,.0715,.093,.109,.096,.088,.107,.099,.121,.092,.085,.103,.098,.114,.091,.097,.106,.089,.102,.118,.094,
   .087,.099,.111,.093,.125,.096,.089,.104,.092,.116,.098,.085,.097,.108,.091,.103,.137,.094,.099,.086,.112,.095,.102,.088,.119,
   .093,.106,.089,.101,.096,.123,.092,.098,.107,.085,.099,.114,.093,.104,.091,.128,.097,.103,.094,.111,.088,.099,.106,.092,.119,
   .095,.087,.102,.098,.093,.109,.091,.098,.116,.092,.101,.089,.107,.096,.123,.094,.086,.103,.098,.112,.091,.099,.093,.105,.097,
   .118,.091,.099,.087,.109,.095,.132,.096,.089,.104,.093,.101,.107,.092,.099,.114,.088,.103,.096,.121,.093,.098,.086,.109,.097,
   .104,.092,.112,.098,.088,.106,.095,.117,.091,.101,.094,.127,.099,.087,.108,.096,.102,.093,.115,.089,.104,.097,.092,.111,.098,
   .086,.103,.095,.121,.092,.099,.108,.091,.097,.113,.094,.088,.105,.098,.126,.093,.101,.089,.109,.096,.118,.092,.099,.087,.104,
   .097,.111,.093,.102,.088,.116,.095,.099,.106,.091,.124,.094,.101,.089,.108,.096,.113,.092,.098,.087,.105,.099,.147,.093,.102,
   .091,.108,.096,.099,.114,.092,.087,.103,.097,.121,.094,.101,.089,.107,.095,.112,.093,.098,.086,.109,.097,.104,.092,.116,.099],
  [.098,.093,.087,.109,.094,.121,.099,.091,.102,.096,.113,.089,.104,.097,.126,.092,.099,.106,.093,.088,.111,.097,.102,.085,.118,
   .094,.099,.107,.091,.114,.096,.089,.101,.124,.093,.098,.087,.108,.095,.113,.091,.099,.105,.092,.119,.096,.089,.103,.097,.112,
   .094,.128,.091,.099,.106,.088,.115,.095,.101,.092,.109,.096,.087,.104,.099,.121,.093,.108,.091,.097,.116,.094,.102,.089,.111,
   .098,.092,.106,.095,.101,.088,.104,.097,.109,.093,.099,.118,.091,.104,.096,.112,.099,.093,.107,.089,.114,.096,.102,.133,.094,
   .098,.087,.108,.095,.103,.091,.105,.097,.119,.092,.099,.088,.111,.096,.103,.142,.094,.107,.091,.098,.113,.094,.101,.089,.108,
   .096,.122,.093,.099,.086,.112,.097,.104,.148,.095,.101,.097,.088,.106,.093,.115,.099,.091,.109,.096,.103,.089,.117,.094,.101,
   .098,.091,.106,.093,.115,.099,.091,.152,.096,.103,.089,.117,.094,.101,.098,.087,.108,.095,.112,.091,.099,.106,.093,.121,.097,
   .089,.104,.096,.111,.092,.0715,.098,.107,.093,.101,.088,.115,.095,.102,.097,.124,.091,.099,.106,.089,.112,.096,.103,.092,.109,
   .095,.101,.087,.118,.093,.099,.106,.091,.113,.097,.102,.088,.109,.094,.131,.096,.092,.104,.098,.089,.115,.093,.101,.097,.108,
   .092,.105,.098,.089,.112,.096,.121,.093,.099,.087,.107,.095,.102,.114,.091,.098,.106,.093,.118,.097,.089,.104,.095,.111,.099],
  [.101,.097,.094,.116,.089,.105,.098,.097,.123,.092,.099,.086,.111,.095,.103,.091,.108,.099,.093,.107,.098,.119,.091,.102,.087,
   .114,.096,.099,.124,.092,.105,.088,.101,.097,.112,.089,.103,.094,.131,.096,.099,.092,.115,.098,.087,.106,.093,.109,.095,.102,
   .088,.117,.096,.091,.104,.099,.121,.093,.086,.107,.097,.112,.094,.103,.091,.139,.098,.089,.106,.095,.118,.092,.101,.087,.109,
   .096,.099,.105,.092,.113,.097,.088,.102,.094,.121,.099,.091,.108,.096,.126,.093,.101,.089,.104,.097,.115,.092,.099,.086,.111,
   .095,.103,.091,.118,.097,.094,.106,.092,.099,.109,.0709,.098,.112,.093,.101,.089,.107,.096,.124,.093,.104,.087,.112,.099,.095,
   .106,.091,.117,.096,.107,.092,.101,.089,.113,.098,.094,.127,.092,.103,.097,.111,.088,.099,.104,.093,.118,.097,.091,.106,.099,
   .087,.112,.096,.101,.093,.119,.095,.102,.089,.108,.097,.114,.091,.099,.105,.094,.123,.092,.098,.088,.109,.096,.103,.091,.116,
   .097,.093,.106,.099,.088,.112,.095,.101,.121,.092,.098,.087,.107,.096,.104,.092,.115,.098,.091,.109,.097,.103,.089,.118,.094,
   .141,.099,.092,.106,.097,.089,.113,.095,.101,.093,.108,.096,.122,.091,.099,.104,.088,.111,.097,.093,.106,.099,.091,.117,.096,
   .102,.089,.108,.095,.114,.097,.092,.103,.098,.087,.111,.096,.121,.093,.099,.106,.091,.104,.097,.113,.094,.101,.088,.109,.098]
];

var kdeTicks = [
  ["0.90","0.95","1.00","1.05","1.10"],
  ["0.05","0.10","0.15","0.20","0.25","0.30","0.35","0.40"],
  ["0.90","0.95","1.00","1.05","1.10","1.15","1.20","1.25"],
  ["0.3","0.4","0.5","0.6","0.7"],
  ["0.08","0.10","0.12","0.14"]
];
var traceTicks = [
  ["0.9","1.0","1.1"],
  ["0.1","0.2","0.3","0.4"],
  ["0.9","1.0","1.1","1.2"],
  ["0.4","0.6"],
  ["0.08","0.10","0.12","0.14"]
];
var iterTicks = [0, 200, 400, 600, 800];

var kdes = [kdeControl, kdeTreat, kdeTrend, kdeDelta, kdeSigma];
var traces = [traceControl, traceTreat, traceTrend, traceDelta, traceSigma];

// ---- layout ----
var width = 2423, height = 2023;
var leftX = 20, rightX = 1259, panelW = 1145, panelH = 305;
var rowTop = 60, rowStep = 400;
var blue = "#2a2eec";
var kdeDash = [null, "11,4.5", "2.6,4.3", "17,4.5,2.6,4.5"];
var traceDash = [null, "8,3.2", "2.4,3", "13,3.2,2.4,3.2"];

var svg = d3.select("#chart").append("svg")
  .attr("width", width).attr("height", height)
  .style("background", "#fff");

// matplotlib style 5% margins
function padded(ext) {
  var m = (ext[1] - ext[0]) * 0.05;
  return [ext[0] - m, ext[1] + m];
}

function panel(g, title) {
  g.append("rect").attr("width", panelW).attr("height", panelH).attr("fill", "#eeeeee");
  g.append("text").attr("x", panelW / 2).attr("y", -17)
    .attr("text-anchor", "middle").style("font-size", "30px").text(title);
}

function xTicks(g, x, labels) {
  labels.forEach(function(t) {
    var px = x(+t);
    g.append("line").attr("x1", px).attr("x2", px).attr("y1", 0).attr("y2", panelH)
      .attr("stroke", "#fff").attr("stroke-width", 2.2);
    g.append("text").attr("x", px).attr("y", panelH + 32)
      .attr("text-anchor", "middle").style("font-size", "26px").text(t);
  });
}

varNames.forEach(function(name, r) {
  var top = rowTop + r * rowStep;

  // left: kde per chain
  var gl = svg.append("g").attr("transform", "translate(" + leftX + "," + top + ")");
  panel(gl, name);
  var pts = d3.merge(kdes[r]);
  var xk = d3.scaleLinear().domain(padded(d3.extent(pts, function(d) { return d[0]; }))).range([0, panelW]);
  var yk = d3.scaleLinear().domain(padded(d3.extent(pts, function(d) { return d[1]; }))).range([panelH, 0]);
  xTicks(gl, xk, kdeTicks[r]);
  var kline = d3.line().x(function(d) { return xk(d[0]); }).y(function(d) { return yk(d[1]); })
    .curve(d3.curveMonotoneX);
  kdes[r].forEach(function(ch, c) {
    gl.append("path").attr("d", kline(ch)).attr("fill", "none")
      .attr("stroke", blue).attr("stroke-width", 2.6)
      .attr("stroke-dasharray", kdeDash[c]);
  });

  // right: trace per chain
  var gr = svg.append("g").attr("transform", "translate(" + rightX + "," + top + ")");
  panel(gr, name);
  var xt = d3.scaleLinear().domain([0, draws - 1]).range([0, panelW]);
  var yt = d3.scaleLinear().domain(padded(d3.extent(d3.merge(traces[r])))).range([panelH, 0]);
  xTicks(gr, xt, iterTicks.map(String));
  traceTicks[r].forEach(function(t) {
    var py = yt(+t);
    gr.append("line").attr("x1", 0).attr("x2", panelW).attr("y1", py).attr("y2", py)
      .attr("stroke", "#fff").attr("stroke-width", 2.2);
    gr.append("text").attr("x", -11).attr("y", py).attr("dy", "0.36em")
      .attr("text-anchor", "end").style("font-size", "26px").text(t);
  });
  traces[r].forEach(function(ch, c) {
    var it = d3.scaleLinear().domain([0, ch.length - 1]).range([0, draws - 1]);
    var tline = d3.line().x(function(d, i) { return xt(it(i)); }).y(function(d) { return yt(d); });
    gr.append("path").attr("d", tline(ch)).attr("fill", "none")
      .attr("stroke", blue).attr("stroke-width", 2.8).attr("stroke-opacity", 0.42)
      .attr("stroke-dasharray", traceDash[c]);
  });
});
</script>
</body>
</html>
